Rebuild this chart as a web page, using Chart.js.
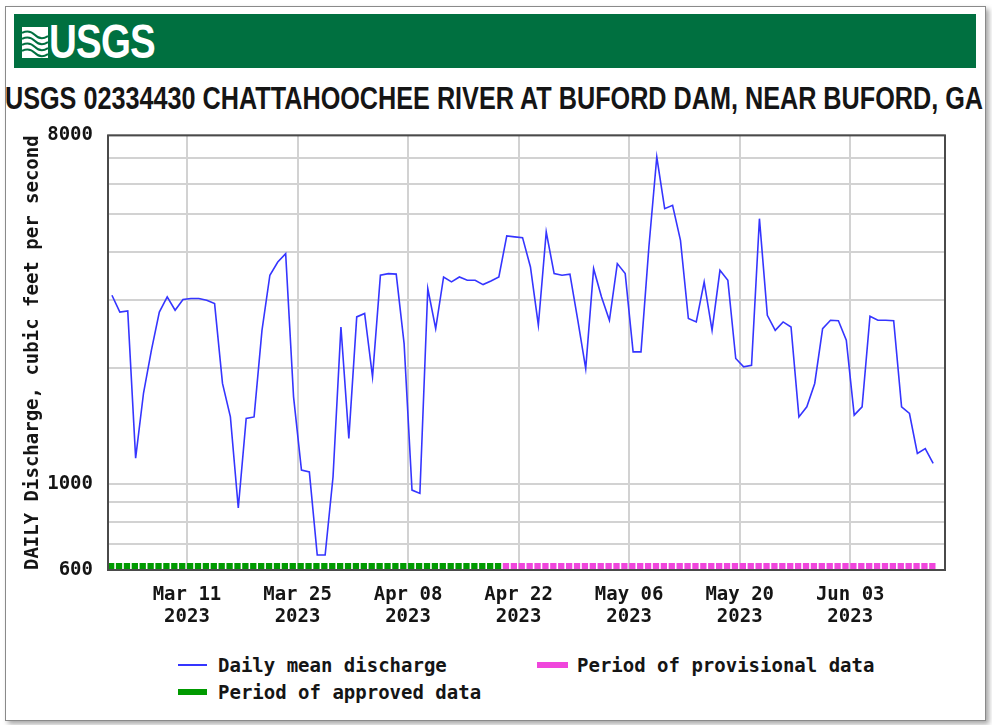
<!DOCTYPE html>
<html>
<head>
<meta charset="utf-8">
<script src="https://cdn.jsdelivr.net/npm/chart.js@4.4.0/dist/chart.umd.min.js"></script>
<style>
html,body{margin:0;padding:0;background:#fff;}
body{width:992px;height:725px;position:relative;overflow:hidden;}
#frame{position:absolute;left:5px;top:6px;width:979px;height:713px;border:1px solid #8a8a8a;box-shadow:3px 3px 5px rgba(0,0,0,0.35);background:#fff;}
#banner{position:absolute;left:14px;top:14px;width:962px;height:54px;background:#007040;}
#logoIcon{position:absolute;left:22px;top:27px;}
#logoText{position:absolute;left:49px;top:18px;color:#fff;font:bold 48px "Liberation Sans Narrow","Liberation Sans",Arial,sans-serif;line-height:48px;white-space:nowrap;transform-origin:0 0;letter-spacing:-1px;}
#title{position:absolute;left:5px;top:82px;white-space:nowrap;font:bold 32px "Liberation Sans Narrow","Liberation Sans",Arial,sans-serif;line-height:32px;color:#151515;transform-origin:0 0;}
#chartWrap{position:absolute;left:0;top:109px;width:992px;height:531px;}
.lg{position:absolute;height:22px;line-height:22px;display:flex;align-items:center;font:bold 19px "DejaVu Sans Mono",monospace;color:#151515;white-space:nowrap;}
.sw{display:inline-block;}
</style>
</head>
<body>
<div id="frame"></div>
<div id="banner"></div>
<svg id="logoIcon" width="26" height="31" viewBox="0 0 26 31">
  <rect x="0" y="0" width="26" height="31" fill="#fff"/>
  <path d="M0 6 Q7 2 13 8 T26 9" stroke="#007040" stroke-width="2" fill="none"/>
  <path d="M0 12 Q7 8 13 14 T26 15" stroke="#007040" stroke-width="2" fill="none"/>
  <path d="M0 18 Q7 14 13 20 T26 21" stroke="#007040" stroke-width="2" fill="none"/>
  <path d="M0 24 Q7 20 13 26 T26 27" stroke="#007040" stroke-width="2" fill="none"/>
</svg>
<div id="logoText">USGS</div>
<div id="title">USGS 02334430 CHATTAHOOCHEE RIVER AT BUFORD DAM, NEAR BUFORD, GA</div>
<div id="chartWrap"><canvas id="c" width="992" height="531"></canvas></div>
<div id="legend"></div>
<script>
// ---------------- data ----------------
const firstDay = '2023-03-01';
const axisStartDate = '2023-03-01';
const axisEndDate = '2023-06-15';
const discharge = [
  3086, 2792, 2810, 1169, 1723, 2224, 2790, 3055, 2822, 3008,
  3025, 3025, 2996, 2936, 1824, 1494, 868, 1480, 1494, 2503,
  3476, 3761, 3954, 1684, 1088, 1077, 656, 656, 1046, 2554,
  1315, 2712, 2768, 1897, 3476, 3510, 3500, 2313, 966, 947,
  3211, 2528, 3440, 3341, 3440, 3373, 3373, 3288, 3360, 3440,
  4393, 4370, 4349, 3652, 2581, 4498, 3510, 3476, 3500, 2658,
  1993, 3615, 3055, 2658, 3726, 3510, 2202, 2202, 4114, 7033,
  5168, 5273, 4280, 2686, 2632, 3341, 2503, 3580, 3373, 2117,
  2014, 2033, 4870, 2738, 2503, 2632, 2554, 1494, 1587, 1824,
  2528, 2658, 2650, 2360, 1510, 1587, 2723, 2658, 2658, 2650,
  1587, 1525, 1202, 1237, 1133
];
const tickDates = ['2023-03-11','2023-03-25','2023-04-08','2023-04-22','2023-05-06','2023-05-20','2023-06-03'];
const tickMonthDay = ['Mar 11','Mar 25','Apr 08','Apr 22','May 06','May 20','Jun 03'];
const tickYear = ['2023','2023','2023','2023','2023','2023','2023'];
const yGridValues = [600, 700, 800, 900, 1000, 2000, 3000, 4000, 5000, 6000, 7000, 8000];
const yLabelValues = [600, 1000, 8000];
const approvedPeriod = ['2023-03-01', '2023-04-20'];
const provisionalPeriod = ['2023-04-20', '2023-06-14'];
const yAxisTitle = 'DAILY Discharge, cubic feet per second';
const legendLabels = ['Daily mean discharge', 'Period of provisional data', 'Period of approved data'];

// ---------------- helpers ----------------
const DAY = 86400000;
function dayIndex(d){ return (Date.parse(d + 'T00:00:00Z') - Date.parse(axisStartDate + 'T00:00:00Z')) / DAY; }
const offset0 = dayIndex(firstDay);
const points = discharge.map((v, i) => ({x: offset0 + i + 0.5, y: v}));

const COLORS = {line: '#3535ff', approved: '#009a00', provisional: '#f046dc', grid: '#d2d2d2', frame: '#4a4a4a', text: '#151515'};
const FONT = '"DejaVu Sans Mono", monospace';

// fit header texts
function fitWidth(id, w){
  const el = document.getElementById(id);
  const cur = el.getBoundingClientRect().width;
  el.style.transform = 'scaleX(' + (w / cur) + ')';
}
fitWidth('title', 978);
fitWidth('logoText', 106);

// legend (HTML)
const lg = document.getElementById('legend');
const legendItems = [
  {text: legendLabels[0], color: COLORS.line, h: 2, w: 29, gap: 11, left: 178, top: 654},
  {text: legendLabels[1], color: COLORS.provisional, h: 6, w: 31, gap: 9, left: 537, top: 654},
  {text: legendLabels[2], color: COLORS.approved, h: 6, w: 29, gap: 11, left: 178, top: 681}
];
legendItems.forEach(it => {
  const d = document.createElement('div');
  d.className = 'lg';
  d.style.left = it.left + 'px';
  d.style.top = it.top + 'px';
  const s = document.createElement('span');
  s.className = 'sw';
  s.style.width = it.w + 'px'; s.style.height = it.h + 'px'; s.style.background = it.color; s.style.marginRight = it.gap + 'px';
  d.appendChild(s);
  d.appendChild(document.createTextNode(it.text));
  lg.appendChild(d);
});

// plugins
const periodBars = {
  id: 'periodBars',
  beforeDatasetsDraw(chart){
    const {ctx, chartArea, scales: {x}} = chart;
    const pxPerDay = x.getPixelForValue(1) - x.getPixelForValue(0);
    const y = chartArea.bottom - 4;
    [[approvedPeriod, COLORS.approved], [provisionalPeriod, COLORS.provisional]].forEach(([p, col]) => {
      const x1 = x.getPixelForValue(dayIndex(p[0]));
      const x2 = x.getPixelForValue(dayIndex(p[1]));
      ctx.save();
      ctx.strokeStyle = col;
      ctx.lineWidth = 6;
      ctx.lineCap = 'butt';
      ctx.setLineDash([pxPerDay - 1.6, 1.6]);
      ctx.beginPath();
      ctx.moveTo(x1, y); ctx.lineTo(x2, y);
      ctx.stroke();
      ctx.restore();
    });
  }
};
const frame = {
  id: 'frame',
  afterDraw(chart){
    const {ctx, chartArea: a} = chart;
    ctx.save();
    ctx.strokeStyle = COLORS.frame;
    ctx.lineWidth = 2;
    ctx.strokeRect(a.left, a.top, a.right - a.left, a.bottom - a.top);
    ctx.restore();
  }
};

new Chart(document.getElementById('c'), {
  type: 'line',
  data: {
    datasets: [{
      label: legendLabels[0],
      data: points,
      borderColor: COLORS.line,
      borderWidth: 1.6,
      pointRadius: 0,
      tension: 0,
      fill: false
    }]
  },
  options: {
    responsive: false,
    animation: false,
    devicePixelRatio: 1,
    layout: {padding: {left: 0, right: 47, top: 0, bottom: 0}},
    plugins: {legend: {display: false}, tooltip: {enabled: false}},
    scales: {
      x: {
        type: 'linear',
        min: dayIndex(axisStartDate),
        max: dayIndex(axisEndDate),
        afterBuildTicks(scale){ scale.ticks = tickDates.map(d => ({value: dayIndex(d)})); },
        afterFit(scale){ scale.height = 70; },
        grid: {color: COLORS.grid, lineWidth: 2, drawTicks: false},
        border: {display: false},
        ticks: {
          autoSkip: false, maxRotation: 0, padding: 14,
          color: COLORS.text,
          font: {family: FONT, size: 19, weight: 'bold', lineHeight: 1.15},
          callback: (v, i) => [tickMonthDay[i], tickYear[i]]
        }
      },
      y: {
        type: 'logarithmic',
        min: yGridValues[0],
        max: yGridValues[yGridValues.length - 1],
        afterBuildTicks(scale){ scale.ticks = yGridValues.map(v => ({value: v})); },
        afterFit(scale){ scale.width = 108; },
        grid: {color: COLORS.grid, lineWidth: 2, drawTicks: false},
        border: {display: false},
        title: {display: true, text: yAxisTitle, color: COLORS.text, padding: {top: 22, bottom: 0},
                font: {family: FONT, size: 19, weight: 'bold', lineHeight: 1.2}},
        ticks: {
          autoSkip: false, padding: 15, color: COLORS.text,
          font: {family: FONT, size: 19, weight: 'bold'},
          callback: (v) => yLabelValues.includes(v) ? String(v) : ''
        }
      }
    }
  },
  plugins: [periodBars, frame]
});
</script>
</body>
</html>
